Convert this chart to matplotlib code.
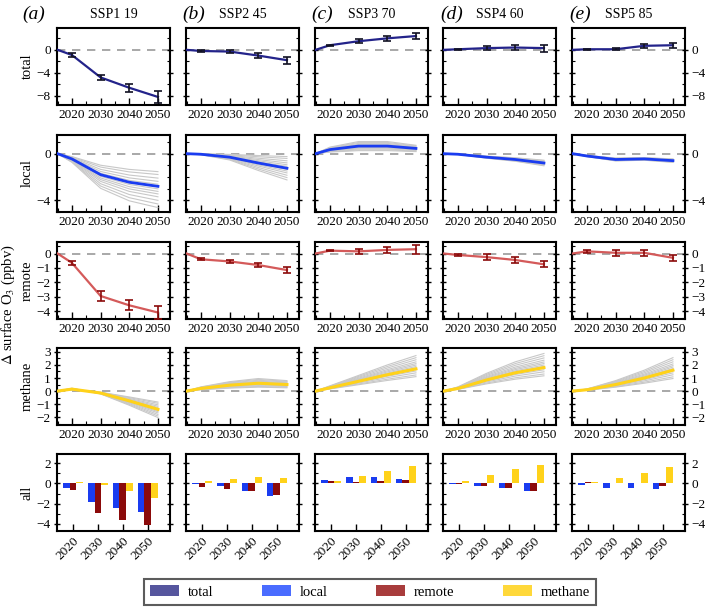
import numpy as np
import matplotlib
matplotlib.use("Agg")
import matplotlib.pyplot as plt
from matplotlib.patches import Patch
from matplotlib.ticker import MultipleLocator

plt.rcParams['font.family'] = ['Liberation Serif', 'DejaVu Serif']
plt.rcParams['mathtext.fontset'] = 'stix'

years = [2015, 2020, 2030, 2040, 2050]
bar_years = ['2020', '2030', '2040', '2050']
scenarios = ['SSP1 19', 'SSP2 45', 'SSP3 70', 'SSP4 60', 'SSP5 85']
letters = ['(a)', '(b)', '(c)', '(d)', '(e)']

# total response, with error bars (2020..2050)
total = [[0, -0.9, -4.8, -6.6, -8.2],
         [0, -0.2, -0.3, -1.0, -1.8],
         [0, 0.8, 1.5, 2.0, 2.4],
         [0, 0.1, 0.3, 0.4, 0.3],
         [0, 0.1, 0.1, 0.7, 0.8]]
total_err = [[0.3, 0.5, 0.7, 1.0],
             [0.1, 0.2, 0.4, 0.6],
             [0.1, 0.3, 0.4, 0.5],
             [0.1, 0.3, 0.5, 0.6],
             [0.1, 0.2, 0.3, 0.4]]

# local response (multi-model mean)
local = [[0, -0.45, -1.8, -2.45, -2.8],
         [0, -0.05, -0.3, -0.8, -1.25],
         [0, 0.35, 0.65, 0.65, 0.45],
         [0, -0.05, -0.3, -0.5, -0.8],
         [0, -0.2, -0.5, -0.45, -0.6]]
# ensemble member spread as factor of the mean (low, high)
local_spread = [(0.55, 1.65), (0.2, 1.8), (0.4, 1.6), (0.7, 1.3), (0.75, 1.25)]

# remote response, with error bars
remote = [[0, -0.65, -2.95, -3.6, -4.1],
          [0, -0.4, -0.55, -0.8, -1.15],
          [0, 0.2, 0.15, 0.25, 0.3],
          [0, -0.1, -0.25, -0.45, -0.75],
          [0, 0.15, 0.05, 0.05, -0.3]]
remote_err = [[0.15, 0.35, 0.35, 0.45],
              [0.08, 0.1, 0.15, 0.2],
              [0.05, 0.15, 0.2, 0.3],
              [0.1, 0.2, 0.2, 0.2],
              [0.1, 0.2, 0.2, 0.2]]

# methane response
methane = [[0, 0.15, -0.15, -0.75, -1.4],
           [0, 0.2, 0.45, 0.6, 0.5],
           [0, 0.25, 0.75, 1.25, 1.7],
           [0, 0.2, 0.85, 1.4, 1.8],
           [0, 0.1, 0.5, 1.0, 1.6]]
methane_spread = [(0.6, 1.45), (0.5, 1.6), (0.65, 1.6), (0.65, 1.6), (0.6, 1.6)]

member_pos = [0.0, 0.08, 0.18, 0.27, 0.35, 0.42, 0.48, 0.55, 0.62, 0.7, 0.8, 0.9, 1.0]

c_total = '#23238a'
c_local = '#1a3cf0'
c_remote_line = '#d45a5a'
c_remote = '#8b0a0a'
c_methane = '#ffd21a'
c_grey = '#c8c8c8'

fig = plt.figure(figsize=(7.07, 6.11), dpi=100)
W, H = 707.0, 611.0
col_left = [57, 186, 315, 443, 572]
row_top = [28, 135, 242, 348, 454]
pw, ph = 113, 77
letter_x = [22, 182, 311, 440, 569]

row_names = ['total', 'local', 'remote', 'methane', 'all']
ylims = [(-9.6, 3.8), (-5.0, 1.6), (-4.55, 0.8), (-2.6, 3.3), (-4.7, 2.9)]
yticks = [[-8, -4, 0], [-4, 0], [-4, -3, -2, -1, 0], [-2, -1, 0, 1, 2, 3], [-4, -2, 0, 2]]
yminor = [2, 1, 0.5, 0.5, 1]


def style_axis(ax, r, c):
    for s in ax.spines.values():
        s.set_linewidth(1.5)
    ax.set_ylim(*ylims[r])
    ax.set_yticks(yticks[r])
    ax.yaxis.set_minor_locator(MultipleLocator(yminor[r]))
    ax.tick_params(axis='both', which='both', direction='in', labelsize=9.5,
                   left=True, right=True, top=False)
    ax.tick_params(axis='y', which='major', length=5, width=1.0, direction='inout', pad=2)
    ax.tick_params(axis='y', which='minor', length=2.5, width=0.8)
    ax.tick_params(axis='x', which='major', length=5, width=1.0, pad=3)
    ax.tick_params(axis='x', which='minor', length=3, width=0.8)
    if c == 0:
        ax.tick_params(axis='y', labelleft=True, labelright=False)
        ax.set_ylabel(row_names[r], fontsize=10.5, labelpad=2)
    elif c == 4:
        ax.tick_params(axis='y', labelleft=False, labelright=True)
    else:
        ax.tick_params(axis='y', labelleft=False, labelright=False)


for c in range(5):
    fig.text(letter_x[c] / W, 1 - 14 / H, letters[c], fontsize=14, style='italic',
             ha='left', va='center')
    fig.text((col_left[c] + pw / 2) / W, 1 - 14 / H, scenarios[c], fontsize=10,
             ha='center', va='center')
    for r in range(5):
        x0 = col_left[c] / W
        y0 = 1 - (row_top[r] + ph) / H
        ax = fig.add_axes([x0, y0, pw / W, ph / H])
        if r < 4:
            ax.axhline(0, color='#999999', lw=1.2, ls=(0, (5, 4)), zorder=1)
            ax.set_xlim(2014.8, 2054.2)
            ax.set_xticks([2020, 2030, 2040, 2050])
            ax.xaxis.set_minor_locator(MultipleLocator(5))
        if r == 0:
            ax.plot(years, total[c], color=c_total, lw=1.6, zorder=3)
            ax.errorbar(years[1:], total[c][1:], yerr=total_err[c], fmt='none',
                        ecolor='#111122', elinewidth=1.2, capsize=3, capthick=1.2, zorder=4)
        elif r == 1:
            lo, hi = local_spread[c]
            for p in member_pos:
                f = lo + (hi - lo) * p
                ax.plot(years, np.array(local[c]) * f, color=c_grey, lw=0.8, zorder=2)
            ax.plot(years, local[c], color=c_local, lw=2.0, zorder=3)
        elif r == 2:
            ax.plot(years, remote[c], color=c_remote_line, lw=1.6, zorder=3)
            ax.errorbar(years[1:], remote[c][1:], yerr=remote_err[c], fmt='none',
                        ecolor=c_remote, elinewidth=1.2, capsize=3, capthick=1.2, zorder=4)
        elif r == 3:
            lo, hi = methane_spread[c]
            for p in member_pos:
                f = lo + (hi - lo) * p
                ax.plot(years, np.array(methane[c]) * f, color=c_grey, lw=0.8, zorder=2)
            ax.plot(years, methane[c], color=c_methane, lw=2.2, zorder=3)
        else:
            xpos = np.arange(len(bar_years))
            bw = 0.27
            ax.bar(xpos - bw, local[c][1:], bw, color=c_local, zorder=3)
            ax.bar(xpos, remote[c][1:], bw, color=c_remote, zorder=3)
            ax.bar(xpos + bw, methane[c][1:], bw, color=c_methane, zorder=3)
            ax.set_xlim(-0.65, 3.9)
            ax.set_xticks(xpos)
            ax.set_xticklabels(bar_years, rotation=45, ha='right', rotation_mode='anchor')
            ax.tick_params(axis='x', which='minor', bottom=False)
        style_axis(ax, r, c)

fig.text(8 / W, 1 - 305 / H, r'$\Delta$ surface O$_3$ (ppbv)', rotation=90,
         fontsize=10.5, ha='center', va='center')

handles = [Patch(facecolor='#56569e', label='total'),
           Patch(facecolor='#4a6cff', label='local'),
           Patch(facecolor='#a83c3c', label='remote'),
           Patch(facecolor='#ffd83a', label='methane')]
leg = fig.legend(handles=handles, loc='center', ncol=4,
                 bbox_to_anchor=(370 / W, 1 - 592 / H), fontsize=10.5,
                 handlelength=2.0, handleheight=0.8, columnspacing=3.3,
                 handletextpad=0.6, fancybox=False, edgecolor='#333333',
                 borderpad=0.45)
leg.get_frame().set_linewidth(1.5)

fig.savefig('out.png', dpi=100)
